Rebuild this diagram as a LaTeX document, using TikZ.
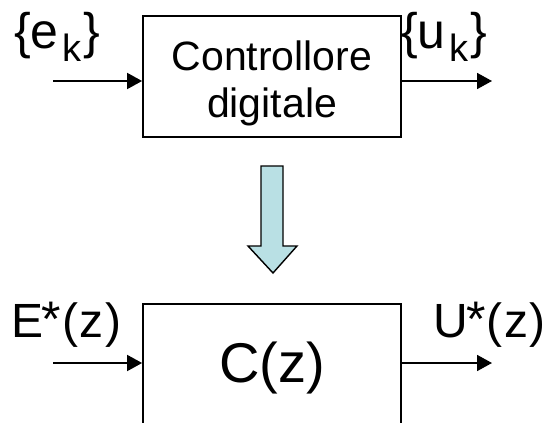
\documentclass[tikz,border=0pt]{standalone}
\usepackage{fontspec}
\setmainfont{Liberation Sans}
\usetikzlibrary{arrows.meta}

\definecolor{arrowfill}{RGB}{185,224,228}

% lowered subscript k and the raised asterisk of the transforms
\newcommand{\subk}{\kern4pt\raisebox{-0.27em}{\fontsize{38}{38}\selectfont k}\kern1.5pt}
\newcommand{\bigast}{\kern-1.5pt\raisebox{1pt}{\fontsize{50}{50}\selectfont *}\kern1pt}
\newcommand{\ofz}{(\kern1.5pt z\kern1.5pt)}

\tikzset{
  blk/.style={draw, line width=1.8pt, minimum width=258pt, inner sep=0pt},
  sig/.style={line width=1.8pt, -{Triangle[length=15pt,width=16pt]}},
  lbl/.style={inner sep=0pt, anchor=base west},
  biglbl/.style={lbl, font=\fontsize{48}{48}\selectfont},
  seqlbl/.style={lbl, font=\fontsize{50}{50}\selectfont},
}

\begin{document}
\begin{tikzpicture}[x=1pt,y=-1pt]
\clip (0,0) rectangle (552,423);
\fill[white] (0,0) rectangle (552,423);

% digital controller block
\node[blk, minimum height=121pt] (ctrl) at (272,76.5) {};
\node[inner sep=0pt, align=center, font=\fontsize{41}{47}\selectfont] (ctrltxt) at (272,83) {Controllore\\digitale};

\coordinate (inA) at (53,81);
\coordinate (outA) at (492,81);
\draw[sig] (inA) -- (inA -| ctrl.west);
\draw[sig] (outA -| ctrl.east) -- (outA);

\node[seqlbl] (ek) at (14,48) {\{e\subk\}};
\node[seqlbl] (uk) at (401,48) {\{u\subk\}};

% transformation arrow
\draw[line width=1.4pt, fill=arrowfill, line join=miter]
  (261,166) -- (283,166) -- (283,246) -- (297,246) -- (273,273)
  -- (248,246) -- (261,246) -- cycle;

% transfer function block (lower edge runs off the page)
\node[blk, minimum height=160pt, anchor=north] (cz) at (272,303) {};
\node[inner sep=0pt, font=\fontsize{56}{56}\selectfont, anchor=base] (cztxt) at (272,382) {C(z)};

\coordinate (inB) at (53,363);
\coordinate (outB) at (492,363);
\draw[sig] (inB) -- (inB -| cz.west);
\draw[sig] (outB -| cz.east) -- (outB);

\node[biglbl] (Ez) at (11,337) {E\bigast\ofz};
\node[biglbl] (Uz) at (433,337) {U\bigast\ofz};
\end{tikzpicture}
\end{document}
